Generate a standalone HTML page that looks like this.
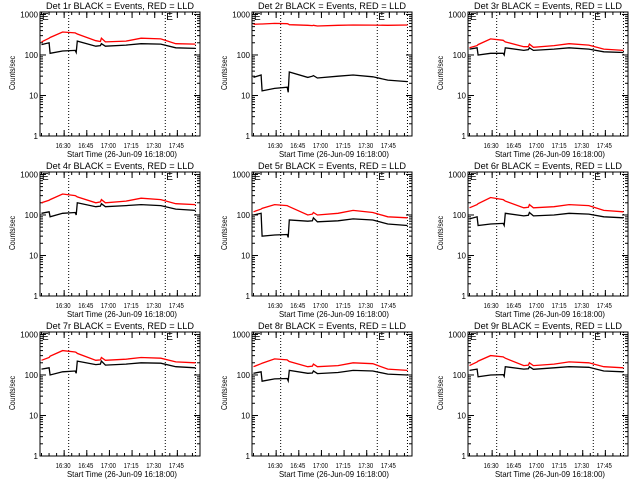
<!DOCTYPE html>
<html><head><meta charset="utf-8"><style>
html,body{margin:0;padding:0;background:#fff;}
svg{display:block;font-family:"Liberation Sans",sans-serif;}
</style></head><body>
<svg id="c" width="640" height="480" viewBox="0 0 640 480"></svg>
<script>
const times = [15,20,20.7,29,37.3,38,38.7,51,54,54.7,57.3,71,81,94,104,117];
const detectors = ["1r","2r","3r","4r","5r","6r","7r","8r","9r"];
const blackSeries = [
 [180,200,110,125,130,115,220,165,170,190,165,175,190,185,150,145],
 [28,32,13,15,16,12,38,28,30,31,27,30,32,29,24,22],
 [140,150,100,110,110,100,150,130,135,150,130,140,150,140,120,115],
 [110,120,90,110,115,100,200,160,165,190,160,170,180,170,140,130],
 [100,110,30,32,33,28,75,70,72,85,68,72,80,75,60,55],
 [80,90,55,60,62,55,110,95,98,115,95,100,110,105,90,85],
 [140,150,100,120,125,110,220,180,185,220,175,185,200,195,160,150],
 [110,120,70,80,82,72,130,110,112,125,108,115,130,125,105,100],
 [130,140,90,100,102,92,160,140,142,160,138,150,160,155,125,120]
];
const redSeries = [
 [210,260,270,370,350,340,330,225,215,260,210,220,260,250,190,185],
 [570,580,580,600,590,580,560,540,530,540,520,540,550,545,540,550],
 [150,170,180,250,230,220,210,160,160,185,155,170,190,175,140,130],
 [200,230,240,330,300,290,280,200,210,240,200,220,260,240,190,180],
 [120,140,145,180,170,165,160,100,105,115,100,110,130,115,90,85],
 [150,180,190,270,240,230,220,150,155,180,150,160,180,170,130,120],
 [230,270,290,400,370,360,340,230,235,270,230,245,270,260,210,200],
 [160,190,195,250,235,225,215,160,165,185,160,170,200,190,140,130],
 [170,210,220,300,280,270,260,170,175,200,170,185,210,200,160,150]
];
const xTickLabels = ["16:30","16:45","17:00","17:15","17:30","17:45"];
const xTickMinutes = [30,45,60,75,90,105];
const yTickLabels = ["1","10","100","1000"];
const yTickValues = [1,10,100,1000];
const dottedMinutes = [33,97,117];

const NS="http://www.w3.org/2000/svg";
const svg=document.getElementById('c');
function mk(tag,attrs,parent){const e=document.createElementNS(NS,tag);for(const k in attrs)e.setAttribute(k,attrs[k]);(parent||svg).appendChild(e);return e;}
const colX=[40,252,468], rowY=[12,172,332], W=160, H=124;
const tMin=14, tMax=120, yMin=1, yMax=1150;

detectors.forEach((d,i)=>{
  const x0=colX[i%3], y0=rowY[Math.floor(i/3)];
  const g=mk('g',{});
  
  
  const sx=t=>x0+(t-tMin)/(tMax-tMin)*W;
  const sy=v=>y0+H-(Math.log10(v)-Math.log10(yMin))/(Math.log10(yMax)-Math.log10(yMin))*H;
  const title=mk('text',{x:x0+W/2,y:y0-3,'text-anchor':'middle','font-size':'9.5',textLength:'148',lengthAdjust:'spacingAndGlyphs'},g);
  title.textContent='Det '+d+' BLACK = Events, RED = LLD';
  
  
  yTickValues.forEach((v,k)=>{
    const y=sy(v);
    mk('line',{x1:x0,x2:x0+6,y1:y,y2:y,stroke:'#000'},g);
    mk('line',{x1:x0+W,x2:x0+W-6,y1:y,y2:y,stroke:'#000'},g);
    const t=mk('text',{x:x0-2,y:y+3,'text-anchor':'end','font-size':'8'},g);
    t.textContent=yTickLabels[k];
    
    
    if(v<1000){for(let m=2;m<10;m++){const yy=sy(v*m);
      mk('line',{x1:x0,x2:x0+3,y1:yy,y2:yy,stroke:'#000'},g);
      mk('line',{x1:x0+W,x2:x0+W-3,y1:yy,y2:yy,stroke:'#000'},g);}}
  });
  xTickMinutes.forEach((m,k)=>{
    const x=sx(m);
    mk('line',{x1:x,x2:x,y1:y0+H,y2:y0+H-6,stroke:'#000'},g);
    mk('line',{x1:x,x2:x,y1:y0,y2:y0+6,stroke:'#000'},g);
    const t=mk('text',{x:x-1,y:y0+H+12,'text-anchor':'middle','font-size':'7.5',textLength:'15',lengthAdjust:'spacingAndGlyphs'},g);
    t.textContent=xTickLabels[k];
    
    
  });
  for(let m=15;m<=120;m+=5){const x=sx(m);
    mk('line',{x1:x,x2:x,y1:y0+H,y2:y0+H-3,stroke:'#000'},g);
    mk('line',{x1:x,x2:x,y1:y0,y2:y0+3,stroke:'#000'},g);}
  dottedMinutes.forEach(m=>{const x=sx(m);
    const l=mk('line',{x1:x,x2:x,y1:y0,y2:y0+H,stroke:'#000','stroke-dasharray':'1,2'},g);
    
    });
  [x0+2,sx(dottedMinutes[1])+1].forEach(x=>{
    const e=mk('text',{x:x,y:y0+8,'font-size':'10'},g);e.textContent='E';
    
    });
  const yl=mk('text',{x:0,y:0,'text-anchor':'middle','font-size':'8',textLength:'34',lengthAdjust:'spacingAndGlyphs',transform:'translate('+(x0-25)+','+(y0+H/2-1)+') rotate(-90)'},g);
  yl.textContent='Counts/sec';
  
  
  const xl=mk('text',{x:x0+W/2+2,y:y0+H+21,'text-anchor':'middle','font-size':'8.5',textLength:'110',lengthAdjust:'spacingAndGlyphs'},g);
  xl.textContent='Start Time (26-Jun-09 16:18:00)';
  
  
  const line=(arr,col,name)=>{
    let p='';arr.forEach((v,k)=>{p+=(k?'L':'M')+sx(times[k]).toFixed(1)+','+sy(v).toFixed(1);});
    const e=mk('path',{d:p,fill:'none',stroke:col,'stroke-width':'1.3'},g);
    
    
  };
  line(redSeries[i],'#f00','lld-line');
  line(blackSeries[i],'#000','events-line');
  const box=mk('rect',{x:x0,y:y0,width:W,height:H,fill:'none',stroke:'#000'},g);
  
  
});
</script>
</body></html>
